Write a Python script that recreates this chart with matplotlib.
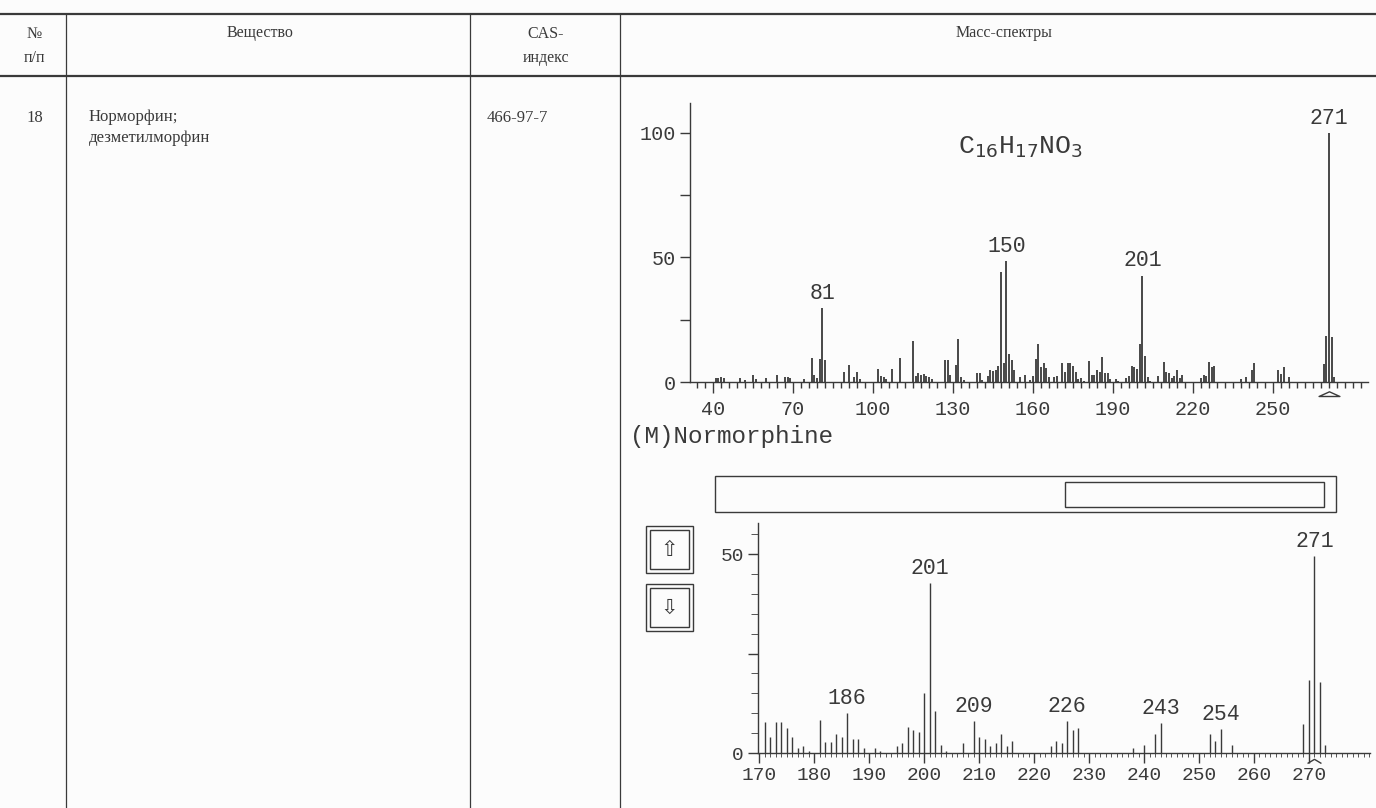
import numpy as np
import matplotlib.pyplot as plt
from matplotlib.patches import Rectangle
from matplotlib.path import Path
from matplotlib.ticker import FixedLocator, MultipleLocator

# mass spectrum of normorphine (m/z, relative intensity %)
mz = [41, 42, 43, 44, 50, 52, 55, 56, 60, 64, 67, 68, 69, 74, 77, 78, 79, 80, 81, 82,
      89, 91, 93, 94, 95, 102, 103, 104, 105, 107, 110, 115, 116, 117, 118, 119, 120,
      121, 122, 127, 128, 129, 131, 132, 133, 134, 139, 140, 141, 143, 144, 145, 146,
      147, 148, 149, 150, 151, 152, 153, 155, 157, 159, 160, 161, 162, 163, 164, 165,
      166, 168, 169, 171, 172, 173, 174, 175, 176, 177, 178, 179, 181, 182, 183, 184,
      185, 186, 187, 188, 189, 191, 192, 195, 196, 197, 198, 199, 200, 201, 202, 203,
      204, 207, 209, 210, 211, 212, 213, 214, 215, 216, 223, 224, 225, 226, 227, 228,
      238, 240, 242, 243, 252, 253, 254, 256, 269, 270, 271, 272, 273]
intensity = [1.8, 1.5, 1.9, 1.5, 1.5, 0.8, 2.9, 1.2, 1.5, 2.9, 2.0, 2.1, 1.8, 1.2, 9.8,
             2.8, 1.5, 9.1, 29.6, 9.0, 4.1, 6.8, 1.9, 4.1, 1.2, 5.1, 2.5, 1.9, 1.2, 5.1,
             9.6, 16.5, 2.5, 3.6, 3.0, 3.2, 2.5, 2.0, 1.2, 8.8, 8.8, 2.8, 6.8, 17.1, 2.0,
             0.8, 3.7, 3.7, 1.0, 2.5, 4.8, 4.5, 4.8, 6.5, 44.0, 7.5, 48.6, 11.4, 8.8, 5.0,
             1.9, 2.8, 0.8, 2.5, 9.4, 15.3, 6.0, 7.5, 5.5, 2.0, 1.9, 2.5, 7.7, 4.1, 7.7,
             7.7, 6.4, 4.1, 1.2, 1.8, 0.5, 8.3, 2.8, 2.8, 4.7, 4.1, 10.1, 3.5, 3.5, 1.2,
             1.2, 0.5, 1.8, 2.4, 6.6, 5.9, 5.3, 15.2, 42.7, 10.6, 1.9, 0.5, 2.4, 8.1, 4.1,
             3.5, 1.8, 2.4, 4.7, 1.8, 3.0, 1.8, 3.0, 2.4, 8.1, 5.9, 6.4, 1.2, 2.0, 4.8,
             7.6, 4.8, 3.1, 6.1, 2.0, 7.3, 18.3, 100.0, 17.9, 2.0]
top_labels = [81, 150, 201, 271]
zoom_labels = [186, 201, 209, 226, 243, 254, 271]
mol_ion = 271
zoom_start = 170
zoom_clip = 49.5

table_header = ['№\nп/п', 'Вещество', 'CAS-\nиндекс', 'Масс-спектры']
row_no = '18'
row_name = 'Норморфин;\nдезметилморфин'
row_cas = '466-97-7'
formula = r'C$_{16}$H$_{17}$NO$_3$'
spectrum_title = '(M)Normorphine'

mz = np.array(mz)
intensity = np.array(intensity)

W, H = 1376, 808
ink = '#3a3a3a'
mono = 'Liberation Mono'
serif = 'Liberation Serif'

fig = plt.figure(figsize=(W / 100, H / 100), dpi=100, facecolor='#fcfcfc')


def rect(l, t, r, b):
    return [l / W, 1 - b / H, (r - l) / W, (b - t) / H]


# page / table layer in pixel coordinates
page = fig.add_axes([0, 0, 1, 1])
page.set_xlim(0, W)
page.set_ylim(H, 0)
page.axis('off')

page.plot([0, W], [14, 14], color=ink, lw=1.6)
page.plot([0, W], [76, 76], color=ink, lw=1.6)
for x in [66, 470, 620]:
    page.plot([x, x], [14, H], color=ink, lw=0.9)

page.text(34, 46, table_header[0], ha='center', va='center', family=serif,
          fontsize=11.5, color=ink, linespacing=1.75)
page.text(260, 33, table_header[1], ha='center', va='center', family=serif,
          fontsize=11.5, color=ink)
page.text(546, 46, table_header[2], ha='center', va='center', family=serif,
          fontsize=11.5, color=ink, linespacing=1.75)
page.text(1004, 33, table_header[3], ha='center', va='center', family=serif,
          fontsize=11.5, color=ink)

page.text(35, 118, row_no, ha='center', va='center', family=serif, fontsize=12, color=ink)
page.text(89, 109, row_name, ha='left', va='top', family=serif, fontsize=12,
          color=ink, linespacing=1.45)
page.text(487, 118, row_cas, ha='left', va='center', family=serif, fontsize=12, color=ink)

page.text(630, 437, spectrum_title, ha='left', va='center', family=mono,
          fontsize=17.5, color=ink)

# scroll bar
page.add_patch(Rectangle((715, 476), 621, 36, fill=False, ec=ink, lw=1.0))
page.add_patch(Rectangle((1065, 482), 259, 25, fill=False, ec=ink, lw=1.0))

# up / down buttons
for t, arrow in [(526, '⇧'), (584, '⇩')]:
    page.add_patch(Rectangle((646, t), 47, 47, fill=False, ec=ink, lw=1.0))
    page.add_patch(Rectangle((650, t + 4), 39, 39, fill=False, ec=ink, lw=1.0))
    page.text(669.5, t + 23.5, arrow, ha='center', va='center', family='DejaVu Sans',
              fontsize=15, color=ink)


def style(ax):
    ax.set_facecolor('none')
    for s in ['top', 'right']:
        ax.spines[s].set_visible(False)
    for s in ['left', 'bottom']:
        ax.spines[s].set_color(ink)
        ax.spines[s].set_linewidth(1.0)
    ax.tick_params(colors=ink, width=1.0, labelsize=14.5)
    for lab in ax.get_xticklabels() + ax.get_yticklabels():
        lab.set_family(mono)


tri = Path([(-1, 0), (1, 0), (0, 0.45), (-1, 0)],
           [Path.MOVETO, Path.LINETO, Path.LINETO, Path.CLOSEPOLY])
caret = Path([(-1, 0), (0, 0.6), (1, 0)], [Path.MOVETO, Path.LINETO, Path.LINETO])

# full spectrum
ax1 = fig.add_axes(rect(690, 103, 1368, 382))
ax1.vlines(mz, 0, intensity, color=ink, lw=1.3)
ax1.set_xlim(31.4, 285.6)
ax1.set_ylim(0, 112)
ax1.set_xticks(np.arange(40, 251, 30))
ax1.xaxis.set_minor_locator(FixedLocator(np.arange(34, 285, 3)))
ax1.set_yticks([0, 25, 50, 75, 100])
ax1.set_yticklabels(['0', '', '50', '', '100'])
style(ax1)
ax1.tick_params(axis='x', which='major', length=8, pad=5)
ax1.tick_params(axis='x', which='minor', length=4, width=1.0, colors=ink)
ax1.tick_params(axis='y', length=7, pad=3)
for m in top_labels:
    ax1.annotate(str(m), (m, intensity[mz == m][0]), xytext=(0, 3),
                 textcoords='offset points', ha='center', va='bottom',
                 family=mono, fontsize=15.5, color=ink)
ax1.plot(mol_ion, -5.5, marker=tri, ms=15, mfc='none', mec=ink, mew=1.0, clip_on=False)
ax1.text(0.487, 0.842, formula, transform=ax1.transAxes, ha='center', va='center',
         family=mono, fontsize=19, color=ink)

# zoomed window
sel = mz >= zoom_start
ax2 = fig.add_axes(rect(758, 523, 1370, 753))
ax2.vlines(mz[sel], 0, np.minimum(intensity[sel], zoom_clip), color=ink, lw=1.0)
ax2.set_xlim(169.8, 281.1)
ax2.set_ylim(0, 57.8)
ax2.set_xticks(np.arange(170, 271, 10))
ax2.xaxis.set_minor_locator(MultipleLocator(1))
ax2.set_yticks([0, 25, 50])
ax2.set_yticklabels(['0', '', '50'])
ax2.yaxis.set_minor_locator(MultipleLocator(5))
style(ax2)
ax2.tick_params(axis='x', which='major', length=7, pad=3, labelsize=14)
ax2.tick_params(axis='x', which='minor', length=3, colors=ink)
ax2.tick_params(axis='y', which='major', length=7, pad=3, labelsize=14)
ax2.tick_params(axis='y', which='minor', length=5, colors=ink)
for m in zoom_labels:
    ax2.annotate(str(m), (m, min(intensity[mz == m][0], zoom_clip)), xytext=(0, 3),
                 textcoords='offset points', ha='center', va='bottom',
                 family=mono, fontsize=15.5, color=ink)
ax2.plot(mol_ion, -2.6, marker=caret, ms=10, mfc='none', mec=ink, mew=1.0, clip_on=False)

fig.savefig('out.png', dpi=100, facecolor=fig.get_facecolor())
